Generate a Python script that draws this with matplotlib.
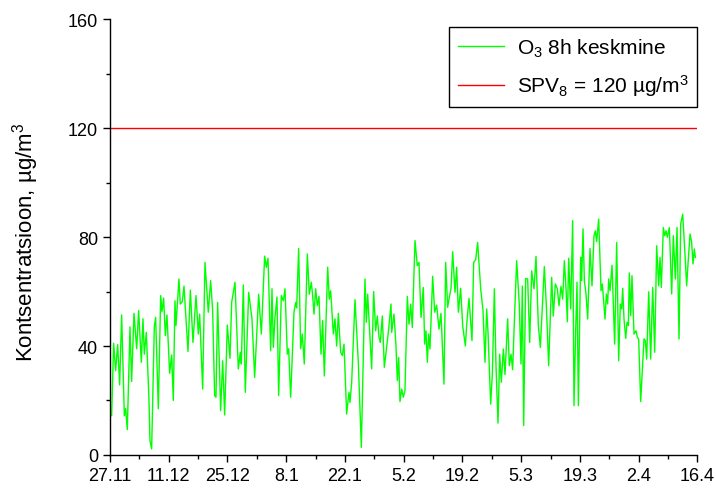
import numpy as np
import matplotlib
matplotlib.use("Agg")
import matplotlib.pyplot as plt
from matplotlib.ticker import MultipleLocator

plt.rcParams['font.family'] = ['Liberation Sans', 'DejaVu Sans']
plt.rcParams['mathtext.fontset'] = 'custom'
plt.rcParams['mathtext.rm'] = 'Liberation Sans'
plt.rcParams['mathtext.it'] = 'Liberation Sans:italic'

# days since 27.11 and 8h mean O3 (ug/m3)
days = [0.0, 0.4, 0.87, 1.35, 1.83, 2.3, 2.78, 3.42, 3.73, 4.13, 4.77, 5.16, 5.72,
        6.36, 6.83, 7.47, 7.86, 8.18, 8.66, 9.29, 9.53, 9.93, 10.56, 10.88, 11.52,
        12.08, 12.39, 12.79, 13.19, 13.58, 14.22, 14.7, 15.09, 15.49, 15.73, 16.13,
        16.44, 16.76, 17.24, 17.64, 18.59, 19.15, 19.78, 20.5, 21.05, 21.37, 22.09,
        22.64, 23.43, 23.99, 24.47, 24.94, 25.26, 25.66, 26.37, 26.85, 27.33, 27.96,
        28.6, 29.0, 29.79, 30.58, 31.06, 31.3, 31.78, 32.25, 33.05, 33.84, 34.48,
        35.43, 36.07, 36.86, 37.26, 37.66, 38.29, 38.61, 38.93, 39.32, 39.8, 40.2,
        40.83, 41.31, 41.71, 42.26, 42.58, 43.06, 43.85, 44.25, 44.49, 44.96,
        45.44, 45.84, 46.31, 47.03, 47.5, 47.98, 48.3, 48.62, 49.02, 49.41, 49.81,
        50.29, 50.68, 51.08, 51.88, 52.27, 52.59, 53.23, 53.62, 54.02, 54.42, 54.97,
        55.37, 55.77, 56.4, 56.96, 57.2, 57.6, 58.39, 59.18, 59.9, 60.77, 61.09,
        61.41, 61.8, 62.36, 62.84, 63.31, 63.71, 64.11, 64.43, 64.9, 65.38, 65.78,
        66.33, 66.97, 67.13, 67.68, 68.16, 68.48, 68.8, 69.11, 69.51, 69.91, 70.3,
        70.86, 71.26, 71.66, 72.05, 72.69, 73.24, 73.64, 74.12, 74.67, 74.99, 75.31,
        75.63, 75.95, 76.26, 76.9, 77.38, 77.85, 78.41, 78.88, 79.6, 80.0, 80.47,
        80.87, 81.27, 81.67, 82.22, 82.62, 83.02, 83.57, 84.05, 84.69, 85.08, 85.56,
        86.27, 86.67, 87.15, 87.62, 88.34, 88.9, 89.37, 89.77, 90.09, 90.72, 91.12,
        91.6, 91.99, 92.47, 92.87, 93.26, 93.74, 94.14, 94.77, 95.17, 95.57, 95.96,
        96.36, 96.92, 97.55, 97.95, 98.27, 98.59, 99.06, 99.54, 100.02, 100.49,
        101.05, 101.53, 102.08, 102.56, 102.88, 103.51, 103.99, 104.54, 105.26,
        105.65, 106.13, 106.61, 107.01, 107.48, 107.88, 108.28, 108.68, 108.99,
        109.31, 109.79, 110.26, 110.58, 110.98, 111.3, 111.62, 112.17, 112.4,
        112.73, 113.05, 113.44, 113.84, 114.4, 114.87, 115.35, 115.67, 115.98,
        116.46, 117.02, 117.33, 117.73, 117.97, 118.29, 118.6, 118.84, 119.16,
        119.64, 120.27, 120.75, 121.23, 121.62, 121.94, 122.18, 122.5, 122.9,
        123.21, 123.53, 123.77, 124.09, 124.4, 124.88, 125.36, 125.68, 125.99,
        126.47, 127.26, 127.58, 127.9, 128.38, 128.85, 129.33, 129.81, 130.28,
        130.76, 131.08, 131.39, 131.87, 132.19, 132.51, 132.83, 133.3, 133.86,
        134.25, 134.73, 135.13, 135.61, 136.0, 136.48, 136.96, 137.43, 137.75,
        138.23, 138.62, 138.94, 139.26, 139.5]
o3 = [15, 14.4, 41, 31, 40.5, 25.7, 51.4, 14.4, 17, 9.3, 47, 27, 52,
      39, 53, 34, 50, 37, 45, 20.5, 5.3, 2.2, 47, 50.5, 17,
      58.5, 52.6, 57.6, 43.8, 51.4, 30, 36.7, 20, 56.6, 47.5, 57.2,
      64.6, 55.4, 56.3, 62, 38, 60.5, 41.3, 58.5, 44.4, 51.7, 24.2,
      70.7, 52.4, 64, 53, 21.8, 21.2, 56, 16.3, 34.6, 14.7, 47.7,
      35.5, 56, 63.4, 31.6, 37.7, 33.4, 62.4, 23, 59.7, 50, 28.5,
      59, 44.4, 73, 68.9, 72.2, 38.3, 61, 39.5, 50.5, 58, 21.8,
      58.5, 56.6, 61, 37, 39, 21.2, 52.4, 56, 54, 75.8,
      39, 44.4, 33.4, 73.8, 59, 63.4, 58.5, 51.7, 61, 54.8, 58.2,
      37, 49.3, 29, 68.9, 57.2, 60.3, 44.4, 50, 40, 52, 37.7,
      36.5, 40.7, 15, 23, 19.3, 26.7, 57, 34, 2.8, 64.6, 48.7,
      59, 48, 31.6, 60, 45.6, 51, 43.2, 41.3, 51, 32.2, 37.7,
      45, 55.4, 45, 51.7, 40, 27.3, 35.8, 19.6, 24.2, 21.2, 23.6,
      58.2, 48, 55.4, 46.8, 78.7, 69.5, 70.7, 50.5, 61.5, 40.7, 45.6,
      34, 44.4, 38.9, 65.6, 52.4, 55, 46.2, 52, 26, 70.7, 54.2,
      57.9, 61.2, 74.6, 59.7, 68.9, 52.4, 61.2, 47.5, 40, 49.3, 57.5,
      42, 70.7, 71.7, 78, 61, 53, 34, 53.6, 45, 18.7, 29.7,
      61, 32.8, 11.7, 37, 26.7, 38.9, 29.5, 50, 32.8, 37, 31.3,
      48.7, 71.3, 55, 33.4, 62, 10.8, 64.8, 64.6, 41.3, 67.6,
      61, 72.9, 47.5, 39.5, 49.3, 69.2, 54.8, 32.8, 65.2,
      51, 62.8, 61, 54.8, 61.9, 57.2, 71.3, 61, 48.9,
      72.2, 53.6, 86, 18.1, 45.6, 63.4, 18.1, 72.5, 64,
      83, 64, 59.1, 49.9, 75.8, 62.1, 80.5, 82.3, 78.3,
      86.6, 60.3, 62.8, 54.8, 49.9, 59.1, 55.4, 64.6, 60.3,
      69.7, 40.7, 78, 34.6, 55.4, 53.6, 61.2, 49.9, 42.8,
      48.7, 47.5, 66.8, 51.1, 65.8, 44.4, 45.6, 43.2, 42.6,
      19.6, 42.6, 42, 35.2, 59.9, 35.2, 61.5, 37.7, 76.8,
      62.1, 72.5, 61.5, 83.5, 80.5, 82.3, 79.9, 83.5, 59.1,
      80.5, 64.6, 83.5, 42.6, 84.8, 88.4, 75.6, 62.1, 70.1,
      81.1, 78, 70.1, 75.6, 72.5]
limit = 120

tick_days = [0, 14, 28, 42, 56, 70, 84, 98, 112, 126, 140]
tick_labels = ['27.11', '11.12', '25.12', '8.1', '22.1', '5.2', '19.2',
               '5.3', '19.3', '2.4', '16.4']

fig = plt.figure(figsize=(7.16, 4.89), dpi=100)
ax = fig.add_axes([0.1536, 0.0675, 0.8205, 0.8915])

ax.plot(days, o3, color='#00ff00', lw=1.0, label=r'O$_3$ 8h keskmine')
ax.axhline(limit, color='#ff0000', lw=1.0, label=r'SPV$_8$ = 120 µg/m$^3$')

ax.set_xlim(0, 140)
ax.set_ylim(0, 160)
ax.set_xticks(tick_days)
ax.set_xticklabels(tick_labels)
ax.xaxis.set_minor_locator(MultipleLocator(7))
ax.yaxis.set_major_locator(MultipleLocator(40))
ax.yaxis.set_minor_locator(MultipleLocator(20))
ax.tick_params(which='major', direction='out', length=5, width=1, labelsize=13, colors='black')
ax.tick_params(which='minor', direction='out', length=3, width=1)
ax.spines['top'].set_visible(False)
ax.spines['right'].set_visible(False)
for s in ('left', 'bottom'):
    ax.spines[s].set_linewidth(1.0)

ax.set_ylabel(r'Kontsentratsioon, µg/m$^3$', fontsize=16)
ax.yaxis.set_label_coords(-0.118, 0.49)

leg = ax.legend(loc='upper right', bbox_to_anchor=(1.0, 0.982), borderaxespad=0,
                fontsize=15, frameon=True, fancybox=False, edgecolor='black',
                framealpha=1, handlelength=2.2, handletextpad=0.6,
                borderpad=0.45, labelspacing=0.65)
leg.get_frame().set_linewidth(1.0)

fig.savefig('out.png', dpi=100)
